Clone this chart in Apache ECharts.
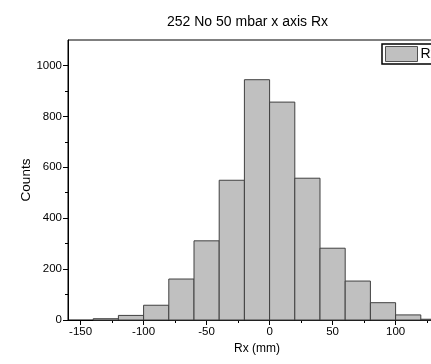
<!DOCTYPE html>
<html>
<head>
<meta charset="utf-8">
<script src="https://cdn.jsdelivr.net/npm/echarts@6/dist/echarts.min.js"></script>
<style>html,body{margin:0;padding:0;background:#fff}#c{width:431px;height:364px}</style>
</head>
<body>
<div id="c"></div>
<script>
const binStarts = [-140, -120, -100, -80, -60, -40, -20, 0, 20, 40, 60, 80, 100, 120];
const counts    = [5, 18, 58, 161, 311, 549, 944, 856, 557, 282, 153, 68, 20, 3];
const binWidth = 20;
const xTickLabels = [-150, -100, -50, 0, 50, 100];
const xMinorTicks = [-125, -75, -25, 25, 75, 125];
const yTickLabels = [0, 200, 400, 600, 800, 1000];
const yMinorTicks = [100, 300, 500, 700, 900];

const FONT = 'Liberation Sans, Arial, sans-serif';
const data = binStarts.map((s, i) => [s, s + binWidth, counts[i]]);

const chart = echarts.init(document.getElementById('c'), null, {renderer: 'canvas'});
const grid = {left: 68, top: 40, width: 378, height: 280, outerBoundsMode: 'none', containLabel: false};
chart.setOption({
  animation: false,
  textStyle: {fontFamily: FONT},
  title: {
    text: '252 No 50 mbar x axis Rx',
    left: 162, top: 10,
    textStyle: {fontSize: 14, fontWeight: 'normal', color: '#000', fontFamily: FONT}
  },
  legend: {
    left: 382, top: 44,
    data: [{name: 'Rx', icon: 'rect', itemStyle: {color: '#c0c0c0', borderColor: '#505050', borderWidth: 1}}],
    itemWidth: 32, itemHeight: 15,
    padding: [2, 3, 2, 3],
    borderColor: '#000', borderWidth: 1.5,
    itemGap: 4,
    textStyle: {fontSize: 14, color: '#000', fontFamily: FONT, padding: [0, 0, 0, -2]}
  },
  grid: [Object.assign({show: true, borderColor: '#000', borderWidth: 1, backgroundColor: 'transparent'}, grid)],
  xAxis: [{
    type: 'value', min: -160, max: 140,
    name: 'Rx (mm)', nameLocation: 'middle', nameGap: 23, nameMoveOverlap: false,
    nameTextStyle: {fontSize: 12, color: '#000', fontFamily: FONT},
    axisLine: {show: true, onZero: false, lineStyle: {color: '#000', width: 1}},
    axisTick: {show: true, inside: false, length: 5, customValues: xTickLabels, lineStyle: {color: '#000'}},
    axisLabel: {show: true, customValues: xTickLabels, margin: 6, fontSize: 11.5, color: '#000', fontFamily: FONT},
    splitLine: {show: false}
  }, {
    type: 'value', min: -160, max: 140, position: 'bottom',
    axisLine: {show: false, onZero: false},
    axisTick: {show: true, inside: false, length: 3, customValues: xMinorTicks, lineStyle: {color: '#000'}},
    axisLabel: {show: false},
    splitLine: {show: false}
  }],
  yAxis: [{
    type: 'value', min: 0, max: 1100,
    name: 'Counts', nameLocation: 'middle', nameGap: 35, nameMoveOverlap: false,
    nameTextStyle: {fontSize: 13.5, color: '#000', fontFamily: FONT},
    axisLine: {show: true, onZero: false, lineStyle: {color: '#000', width: 1}},
    axisTick: {show: true, inside: false, length: 5, customValues: yTickLabels, lineStyle: {color: '#000'}},
    axisLabel: {show: true, customValues: yTickLabels, margin: 6, fontSize: 11.5, color: '#000', fontFamily: FONT,
      formatter: function (v) { return String(v); }},
    splitLine: {show: false}
  }, {
    type: 'value', min: 0, max: 1100, position: 'left',
    axisLine: {show: false, onZero: false},
    axisTick: {show: true, inside: false, length: 3, customValues: yMinorTicks, lineStyle: {color: '#000'}},
    axisLabel: {show: false},
    splitLine: {show: false}
  }],
  series: [{
    name: 'Rx',
    type: 'custom',
    xAxisIndex: 0, yAxisIndex: 0,
    itemStyle: {color: '#c0c0c0', borderColor: '#404040', borderWidth: 1},
    encode: {x: [0, 1], y: 2},
    renderItem: function (params, api) {
      const p0 = api.coord([api.value(0), 0]);
      const p1 = api.coord([api.value(1), api.value(2)]);
      return {
        type: 'rect',
        shape: {x: p0[0], y: p1[1], width: p1[0] - p0[0], height: p0[1] - p1[1]},
        style: {fill: '#c0c0c0', stroke: '#404040', lineWidth: 1}
      };
    },
    data: data
  }]
});
</script>
</body>
</html>
